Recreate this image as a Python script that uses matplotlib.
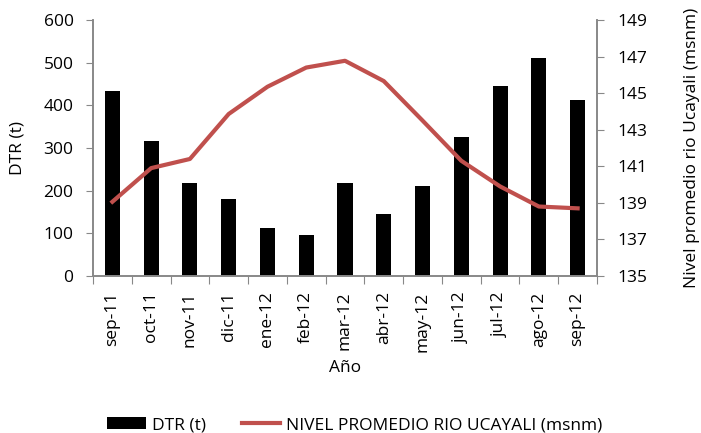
import matplotlib.pyplot as plt
import numpy as np

plt.rcParams['font.family'] = ['Open Sans', 'DejaVu Sans']

meses = ["sep-11", "oct-11", "nov-11", "dic-11", "ene-12", "feb-12", "mar-12",
         "abr-12", "may-12", "jun-12", "jul-12", "ago-12", "sep-12"]
dtr = [433, 316, 219, 180, 112, 95, 219, 145, 211, 326, 446, 510, 412]
nivel = [139.06, 140.9, 141.4, 143.86, 145.35, 146.4, 146.77, 145.66, 143.5,
         141.3, 139.9, 138.8, 138.7]

W, H = 701, 433
fs = 12.5
fig = plt.figure(figsize=(W / 100, H / 100), dpi=100)
ax = fig.add_axes([93 / W, 1 - 276 / H, (597 - 93) / W, (276 - 20) / H])
x = np.arange(len(meses))
ax.bar(x, dtr, width=0.39, color="black", label="DTR (t)", zorder=2)
ax.set_xlim(-0.5, len(meses) - 0.5)
ax.set_ylim(0, 600)
ax.set_yticks(range(0, 601, 100))
ax.set_ylabel("DTR (t)", fontsize=fs, va="center")
ax.yaxis.set_label_coords((18 - 93) / (597 - 93), 0.5)
ax.set_xlabel("Año", fontsize=fs, va="center")
ax.xaxis.set_label_coords(0.5, -(368 - 276) / 256)

# ticks between categories, labels centred under the bars
ax.set_xticks(np.arange(-0.5, len(meses), 1))
ax.set_xticklabels([])
ax.set_xticks(x, minor=True)
ax.set_xticklabels(meses, minor=True, rotation=90, fontsize=fs)
ax.tick_params(axis="x", which="minor", length=0, pad=11)
ax.tick_params(axis="x", which="major", length=6, color="#888888")
ax.tick_params(axis="y", length=5, color="#888888", labelsize=fs, pad=9)

ax2 = ax.twinx()
ax2.plot(x, nivel, color="#c0504d", linewidth=3, label="NIVEL PROMEDIO RIO UCAYALI (msnm)")
ax2.set_ylim(135, 149)
ax2.set_yticks(range(135, 150, 2))
ax2.set_ylabel("Nivel promedio rio Ucayali (msnm)", fontsize=fs, va="center")
ax2.yaxis.set_label_coords((692 - 93) / (597 - 93), 0.5)
ax2.tick_params(axis="y", length=5, color="#888888", labelsize=fs, pad=10)

for a in (ax, ax2):
    a.spines["top"].set_visible(False)
    for s in ("left", "right", "bottom"):
        a.spines[s].set_color("#888888")
        a.spines[s].set_linewidth(1.2)

h1, l1 = ax.get_legend_handles_labels()
h2, l2 = ax2.get_legend_handles_labels()
fig.legend(h1 + h2, l1 + l2, loc="center", bbox_to_anchor=(355 / W, 1 - 425 / H),
           ncol=2, frameon=False, fontsize=fs, handlelength=2.2, handleheight=0.7,
           handletextpad=0.35, columnspacing=2.1)

fig.savefig("out.png", dpi=100)
